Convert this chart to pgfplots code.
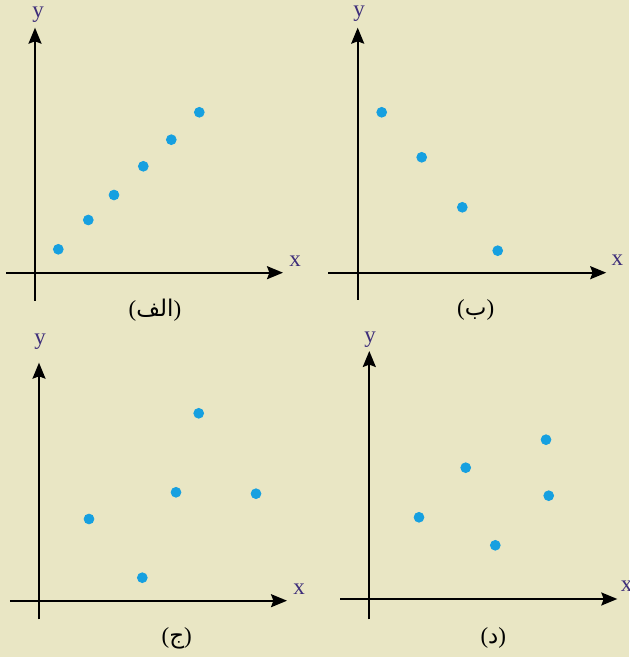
\documentclass[border=0pt]{standalone}
\usepackage{pgfplots}
\pgfplotsset{compat=1.18}
\usepackage{fontspec}
\setmainfont{Liberation Serif}
\newfontfamily\arabicfont[Script=Arabic]{DejaVu Sans}
\TeXXeTstate=1
\usetikzlibrary{arrows.meta}

\definecolor{paper}{RGB}{233,230,196}
\definecolor{dot}{RGB}{22,160,224}
\definecolor{axlabel}{RGB}{62,46,122}

\newcommand\ar[1]{{\arabicfont\beginR #1\endR}}

\pgfplotsset{
  panel/.style={
    x=0.5pt, y=0.5pt,
    axis x line*=middle, axis y line*=middle,
    xtick=\empty, ytick=\empty,
    x axis line style={line width=1pt, black, -{Stealth[length=8pt,width=6.5pt,inset=1.2pt]}},
    y axis line style={line width=1pt, black, -{Stealth[length=8pt,width=6.5pt,inset=1.2pt]}},
    clip=false,
    anchor=origin,
  },
  dots/.style={only marks, mark=*, mark size=2.45pt, color=dot},
}
\tikzset{
  axlab/.style={text=axlabel, font=\fontsize{11.5}{13}\selectfont, inner sep=0pt},
  captext/.style={text=black, font=\fontsize{11.5}{13}\selectfont, inner sep=0pt},
}

\begin{document}
\begin{tikzpicture}[x=0.5pt, y=0.5pt]
\useasboundingbox (0,0) rectangle (629,657);
\clip (0,0) rectangle (629,657);
\fill[paper] (0,0) rectangle (629,657);

% (a) increasing trend
\begin{axis}[panel, at={(35,384.3)}, xmin=-29, xmax=248, ymin=-28.3, ymax=245]
\addplot[dots] coordinates {(23.3,23.4) (53.3,52.7) (79,77.7) (108.3,106.4) (136.3,133) (164.3,160.4)};
\node[axlab] at (axis cs:3,258) {y};
\node[axlab] at (axis cs:260,11) {x};
\node[captext] at (axis cs:120,-37.3) {(\ar{الف})};
\end{axis}

% (b) decreasing trend
\begin{axis}[panel, at={(357.7,384.3)}, xmin=-29.4, xmax=248.5, ymin=-27.3, ymax=245]
\addplot[dots] coordinates {(24,160.4) (64,115.4) (104.6,65.4) (140,22)};
\node[axlab] at (axis cs:1.3,259) {y};
\node[axlab] at (axis cs:259.6,12) {x};
\node[captext] at (axis cs:118,-37.3) {(\ar{ب})};
\end{axis}

% (c) scattered
\begin{axis}[panel, at={(39,56.3)}, xmin=-29, xmax=248, ymin=-18.6, ymax=238]
\addplot[dots] coordinates {(50,81.7) (103.3,23) (137,108.4) (159.7,187.4) (217,107)};
\node[axlab] at (axis cs:1,259) {y};
\node[axlab] at (axis cs:260,11.4) {x};
\node[captext] at (axis cs:137.7,-37.6) {(\ar{ج})};
\end{axis}

% (d) scattered
\begin{axis}[panel, at={(369.3,58)}, xmin=-29.3, xmax=248, ymin=-20.3, ymax=248]
\addplot[dots] coordinates {(49.7,81.7) (96.4,131.3) (126,53.7) (176.7,159.3) (179.4,103.3)};
\node[axlab] at (axis cs:0.7,259) {y};
\node[axlab] at (axis cs:257.4,12.3) {x};
\node[captext] at (axis cs:124,-39.3) {(\ar{د})};
\end{axis}
\end{tikzpicture}
\end{document}
